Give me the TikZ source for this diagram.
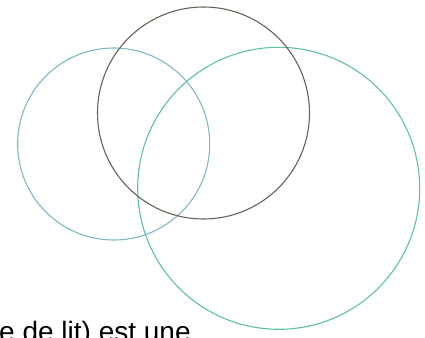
\documentclass[tikz,border=0pt]{standalone}
\usepackage{fontspec}
\setmainfont{Liberation Sans}
\begin{document}
\begin{tikzpicture}[
  x=1pt, y=-1pt,
  ring/.style    = {line width=1.1pt},
  caption/.style = {font=\fontsize{28}{33}\selectfont, inner sep=0pt, anchor=base west}
]
\definecolor{ringblue}{RGB}{128,184,194}
\definecolor{ringdark}{RGB}{104,98,86}
\definecolor{ringgreen}{RGB}{96,192,164}

\useasboundingbox (0,0) rectangle (425,337);
\clip (0,0) rectangle (425,337);

% ---- circles ----
\draw[ring, ringblue]  (113.7,144) circle (96);
\draw[ring, ringgreen] (278.7,188.3) circle (141);
\draw[ring, ringdark]  (203.5,113) circle (106);

% ---- cut-off text line ----
\node[caption] (txt) at (-1,341) {e de lit) est une};

\end{tikzpicture}
\end{document}
